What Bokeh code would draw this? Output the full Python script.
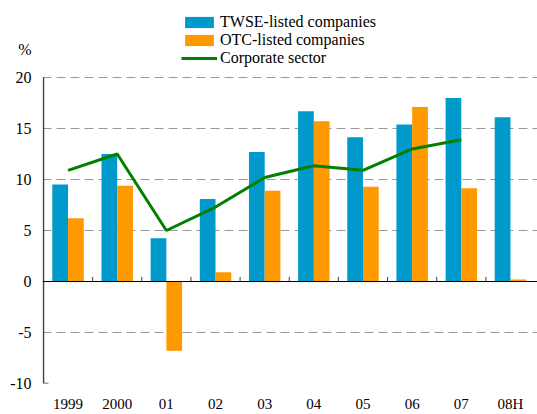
from bokeh.plotting import figure
from bokeh.models import (Range1d, FixedTicker, Span, Legend, LegendItem, ColumnDataSource)
from bokeh.embed import file_html
from bokeh.resources import INLINE

categories = ["1999", "2000", "01", "02", "03", "04", "05", "06", "07", "08H"]
twse = [9.5, 12.5, 4.25, 8.1, 12.7, 16.7, 14.15, 15.4, 18.0, 16.1]
otc = [6.2, 9.4, -6.8, 0.9, 8.9, 15.7, 9.3, 17.1, 9.15, 0.2]
corp_categories = ["1999", "2000", "01", "02", "03", "04", "05", "06", "07"]
corporate = [10.9, 12.5, 5.0, 7.3, 10.2, 11.35, 10.9, 13.0, 13.9]
y_ticks = [-10, -5, 0, 5, 10, 15, 20]
grid_ticks = [-5, 5, 10, 15, 20]
unit_label = "%"
unit_pos = 22.7

FONT = "Liberation Serif"
BLUE = "#0099CC"
ORANGE = "#FF9900"
GREEN = "#008000"

idx = list(range(len(categories)))
cidx = [categories.index(c) for c in corp_categories]
bw = 0.32

p = figure(width=537, height=414, output_backend="svg", toolbar_location=None,
           x_range=Range1d(-0.52, 9.55), y_range=Range1d(-10, 27.55),
           min_border_left=42, min_border_right=0, min_border_top=0, min_border_bottom=31)
p.outline_line_color = None
p.background_fill_color = "white"
p.border_fill_color = "white"

# grid
p.xgrid.visible = False
p.ygrid.ticker = FixedTicker(ticks=grid_ticks)
p.ygrid.grid_line_color = "#999999"
p.ygrid.grid_line_dash = "9 5"
p.ygrid.grid_line_width = 1

# y axis (tick labels plus unit label at the top)
p.yaxis.ticker = FixedTicker(ticks=y_ticks + [unit_pos])
overrides = {t: str(t) for t in y_ticks}
overrides[unit_pos] = unit_label
p.yaxis.major_label_overrides = overrides
p.yaxis.major_tick_in = 0
p.yaxis.major_tick_out = 0
p.yaxis.minor_tick_line_color = None
p.yaxis.axis_line_color = None
p.yaxis.major_label_text_font = FONT
p.yaxis.major_label_text_font_size = "16px"
p.yaxis.major_label_text_color = "black"
p.yaxis.major_label_standoff = 11

# x axis
p.xaxis.ticker = FixedTicker(ticks=idx)
p.xaxis.major_label_overrides = {i: c for i, c in zip(idx, categories)}
p.xaxis.axis_line_color = None
p.xaxis.major_tick_line_color = None
p.xaxis.minor_tick_line_color = None
p.xaxis.major_label_text_font = FONT
p.xaxis.major_label_text_font_size = "15px"
p.xaxis.major_label_text_color = "black"
p.xaxis.major_label_standoff = 6

src = ColumnDataSource(dict(
    xb=[i - bw / 2 for i in idx],
    xo=[i + bw / 2 for i in idx],
    twse=twse, otc=otc))
r1 = p.vbar(x="xb", top="twse", bottom=0, width=bw, source=src,
            fill_color=BLUE, line_color=None)
r2 = p.vbar(x="xo", top="otc", bottom=0, width=bw, source=src,
            fill_color=ORANGE, line_color=None)

p.add_layout(Span(location=0, dimension="width", line_color="black", line_width=1.2))
# category separator ticks on zero line
seps = [i + 0.5 for i in idx[:-1]]
p.segment(x0=seps, y0=[0] * len(seps), x1=seps, y1=[0.45] * len(seps),
          line_color="#404040", line_width=1)
# y axis line between -10 and 20, with a small tick at the bottom
ymin, ymax = min(y_ticks), max(y_ticks)
p.segment(x0=[-0.5], y0=[ymin], x1=[-0.5], y1=[ymax], line_color="#404040", line_width=1.5)
p.segment(x0=[-0.5], y0=[ymin], x1=[-0.4], y1=[ymin], line_color="#404040", line_width=1.5)

r3 = p.line(x=cidx, y=corporate, line_color=GREEN, line_width=3)

legend = Legend(items=[
    LegendItem(label="TWSE-listed companies", renderers=[r1]),
    LegendItem(label="OTC-listed companies", renderers=[r2]),
    LegendItem(label="Corporate sector", renderers=[r3]),
], location=(139, 316))
legend.glyph_width = 36
legend.glyph_height = 14
legend.label_height = 18
legend.spacing = 0
legend.padding = 0
legend.margin = 0
legend.label_standoff = 3
legend.label_text_font = FONT
legend.label_text_font_size = "16px"
legend.label_text_color = "black"
legend.border_line_color = None
legend.background_fill_alpha = 0
p.add_layout(legend, "center")

open("out.html", "w").write(file_html(p, INLINE))
